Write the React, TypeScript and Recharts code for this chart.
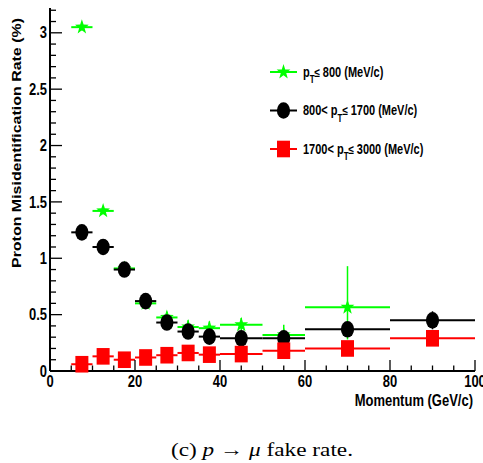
import React from 'react';
import { ScatterChart, Scatter, XAxis, YAxis, ErrorBar, Legend } from 'recharts';

// ---- data ----
const momentumBins = [7.5, 12.5, 17.5, 22.5, 27.5, 32.5, 37.5, 45, 55, 70, 90];
const binHalfWidths = [2.5, 2.5, 2.5, 2.5, 2.5, 2.5, 2.5, 5, 5, 10, 10];

const lowPtRate = [3.05, 1.42, 0.91, 0.6, 0.475, 0.39, 0.38, 0.41, 0.32, 0.565];
const lowPtErrDown = [0.03, 0.03, 0.03, 0.03, 0.04, 0.05, 0.05, 0.05, 0.07, 0.285];
const lowPtErrUp = [0.03, 0.03, 0.03, 0.03, 0.05, 0.06, 0.06, 0.06, 0.09, 0.365];

const midPtRate = [1.23, 1.1, 0.9, 0.62, 0.43, 0.35, 0.305, 0.29, 0.29, 0.37, 0.45];
const midPtErr = [0.02, 0.02, 0.02, 0.02, 0.02, 0.02, 0.03, 0.03, 0.04, 0.05, 0.08];

const highPtRate = [0.06, 0.13, 0.1, 0.12, 0.14, 0.16, 0.145, 0.15, 0.18, 0.2, 0.29];
const highPtErr = [0.01, 0.01, 0.01, 0.01, 0.01, 0.02, 0.02, 0.02, 0.03, 0.03, 0.04];

const xTicks = [0, 5, 10, 15, 20, 25, 30, 35, 40, 45, 50, 55, 60, 65, 70, 75, 80, 85, 90, 95, 100];
const xLabelTicks = [0, 20, 40, 60, 80, 100];
const yTicks = [0, 0.1, 0.2, 0.3, 0.4, 0.5, 0.6, 0.7, 0.8, 0.9, 1, 1.1, 1.2, 1.3, 1.4, 1.5, 1.6, 1.7, 1.8, 1.9, 2, 2.1, 2.2, 2.3, 2.4, 2.5, 2.6, 2.7, 2.8, 2.9, 3, 3.1, 3.2];
const yLabelTicks = [0, 0.5, 1, 1.5, 2, 2.5, 3];

const xTitle = 'Momentum (GeV/c)';
const yTitle = 'Proton Misidentification Rate (%)';

const buildSeries = (rates: number[], down: number[], up: number[]) =>
  rates.map((y, i) => ({
    x: momentumBins[i],
    y,
    xErr: binHalfWidths[i],
    yErr: [down[i], up[i]],
  }));

const lowPtData = buildSeries(lowPtRate, lowPtErrDown, lowPtErrUp);
const midPtData = buildSeries(midPtRate, midPtErr, midPtErr);
const highPtData = buildSeries(highPtRate, highPtErr, highPtErr);

const GREEN = '#00ff00';
const RED = '#ff0000';
const BLACK = '#000000';
const FONT = '"Liberation Sans", Arial, Helvetica, sans-serif';

// ---- markers ----
const starPath = (cx: number, cy: number, R: number, r: number, sy: number) => {
  const pts: string[] = [];
  for (let i = 0; i < 10; i++) {
    const rad = i % 2 === 0 ? R : r;
    const a = -Math.PI / 2 + (i * Math.PI) / 5;
    pts.push(`${cx + rad * Math.cos(a)},${cy + rad * Math.sin(a) * sy}`);
  }
  return `M${pts.join('L')}Z`;
};

const StarMarker = ({ cx, cy }: any) => <path d={starPath(cx, cy, 7.2, 2.9, 1.1)} fill={GREEN} />;
const CircleMarker = ({ cx, cy }: any) => <ellipse cx={cx} cy={cy} rx={6.6} ry={8.3} fill={BLACK} />;
const SquareMarker = ({ cx, cy }: any) => <rect x={cx - 6.5} y={cy - 8.3} width={13} height={16.6} fill={RED} />;

// ---- ticks ----
const tickText = (x: number, y: number, label: string, anchor: string) => (
  <g transform={`translate(${x},${y}) scale(1,1.2)`}>
    <text x={0} y={0} dy="0.36em" textAnchor={anchor as any} fontFamily={FONT} fontWeight="bold" fontSize={13} fill="#000">
      {label}
    </text>
  </g>
);

const BottomTick = (props: any) => {
  const { x, y, payload } = props;
  const major = xLabelTicks.includes(payload.value);
  return (
    <g>
      <line x1={x} x2={x} y1={y} y2={y - (major ? 11 : 5.5)} stroke="#000" strokeWidth={1.3} />
      {major && tickText(x, y + 10, String(payload.value), 'middle')}
    </g>
  );
};
const TopTick = (props: any) => {
  const { x, y, payload } = props;
  const major = xLabelTicks.includes(payload.value);
  return <line x1={x} x2={x} y1={y} y2={y + (major ? 11 : 5.5)} stroke="#000" strokeWidth={1.3} />;
};
const LeftTick = (props: any) => {
  const { x, y, payload } = props;
  const major = yLabelTicks.includes(payload.value);
  return (
    <g>
      <line x1={x} x2={x + (major ? 12 : 6)} y1={y} y2={y} stroke="#000" strokeWidth={1.3} />
      {major && tickText(x - 3, y, String(payload.value), 'end')}
    </g>
  );
};
const RightTick = (props: any) => {
  const { x, y, payload } = props;
  const major = yLabelTicks.includes(payload.value);
  return <line x1={x} x2={x - (major ? 12 : 6)} y1={y} y2={y} stroke="#000" strokeWidth={1.3} />;
};

// ---- legend ----
const legendItems = [
  { color: GREEN, Marker: StarMarker, pre: '', lim: '800' },
  { color: BLACK, Marker: CircleMarker, pre: '800< ', lim: '1700' },
  { color: RED, Marker: SquareMarker, pre: '1700< ', lim: '3000' },
];

const LegendContent = () => (
  <svg width={220} height={115} style={{ display: 'block', overflow: 'visible' }}>
    {legendItems.map((it, i) => {
      const cy = 15 + i * 38.5;
      return (
        <g key={i}>
          <line x1={6} x2={33} y1={cy} y2={cy} stroke={it.color} strokeWidth={2} />
          <it.Marker cx={19.5} cy={cy} />
          <g transform={`translate(39,${cy}) scale(1,1.25)`}>
            <text x={0} y={0} dy="0.36em" fontFamily={FONT} fontWeight="bold" fontSize={11} fill="#000">
              {it.pre}p
              <tspan fontSize={8} dy={5}>T</tspan>
              <tspan fontSize={10} dy={-5}>≤ </tspan>
              {`${it.lim} (MeV/c)`}
            </text>
          </g>
        </g>
      );
    })}
  </svg>
);

export default function App() {
  return (
    <div style={{ position: 'absolute', left: 0, top: 0, width: 483, height: 463, background: '#fff' }}>
      <ScatterChart width={483} height={415} margin={{ top: 8, right: 8, bottom: 8, left: 8 }}>
        <XAxis
          xAxisId={0}
          dataKey="x"
          type="number"
          domain={[0, 100]}
          ticks={xTicks}
          interval={0}
          height={36}
          tickSize={0}
          tickMargin={0}
          tickLine={false}
          axisLine={{ stroke: '#000', strokeWidth: 2 }}
          tick={<BottomTick />}
          label={{
            content: (p: any) => {
              const vb = p.viewBox || {};
              return (
                <g transform={`translate(${vb.x + vb.width - 2},${vb.y + 29}) scale(1,1.2)`}>
                  <text x={0} y={0} dy="0.36em" textAnchor="end" fontFamily={FONT} fontWeight="bold" fontSize={13} fill="#000">
                    {xTitle}
                  </text>
                </g>
              );
            },
          }}
        />
        <XAxis
          xAxisId="top"
          orientation="top"
          type="number"
          domain={[0, 100]}
          ticks={xTicks}
          interval={0}
          height={0}
          tickSize={0}
          tickMargin={0}
          tickLine={false}
          axisLine={{ stroke: '#000', strokeWidth: 2 }}
          tick={<TopTick />}
        />
        <YAxis
          yAxisId={0}
          dataKey="y"
          type="number"
          domain={[0, 3.22]}
          ticks={yTicks}
          interval={0}
          width={42}
          tickSize={0}
          tickMargin={0}
          tickLine={false}
          axisLine={{ stroke: '#000', strokeWidth: 2 }}
          tick={<LeftTick />}
          label={{
            content: () => (
              <text
                transform="translate(21,18) rotate(-90)"
                x={0}
                y={0}
                textAnchor="end"
                fontFamily={FONT}
                fontWeight="bold"
                fontSize={13}
                textLength={250}
                lengthAdjust="spacingAndGlyphs"
                fill="#000"
              >
                {yTitle}
              </text>
            ),
          }}
        />
        <YAxis
          yAxisId="right"
          orientation="right"
          type="number"
          domain={[0, 3.22]}
          ticks={yTicks}
          interval={0}
          width={0}
          tickSize={0}
          tickMargin={0}
          tickLine={false}
          axisLine={{ stroke: '#000', strokeWidth: 2 }}
          tick={<RightTick />}
        />
        <Legend
          layout="vertical"
          align="center"
          verticalAlign="middle"
          content={<LegendContent />}
          wrapperStyle={{ left: 264, top: 57, width: 220, height: 115 }}
        />
        <Scatter name="low" data={lowPtData} fill={GREEN} shape={StarMarker} isAnimationActive={false}>
          <ErrorBar dataKey="xErr" direction="x" width={0} stroke={GREEN} strokeWidth={2} />
          <ErrorBar dataKey="yErr" direction="y" width={0} stroke={GREEN} strokeWidth={1.5} />
        </Scatter>
        <Scatter name="mid" data={midPtData} fill={BLACK} shape={CircleMarker} isAnimationActive={false}>
          <ErrorBar dataKey="xErr" direction="x" width={0} stroke={BLACK} strokeWidth={2} />
          <ErrorBar dataKey="yErr" direction="y" width={0} stroke={BLACK} strokeWidth={1.5} />
        </Scatter>
        <Scatter name="high" data={highPtData} fill={RED} shape={SquareMarker} isAnimationActive={false}>
          <ErrorBar dataKey="xErr" direction="x" width={0} stroke={RED} strokeWidth={2} />
          <ErrorBar dataKey="yErr" direction="y" width={0} stroke={RED} strokeWidth={1.5} />
        </Scatter>
      </ScatterChart>
      <svg width={483} height={48} style={{ position: 'absolute', left: 0, top: 415 }}>
        <text x={262} y={41} textAnchor="middle" fontFamily='"Liberation Serif", "DejaVu Serif", serif' fontSize={19} fill="#000" textLength={182} lengthAdjust="spacingAndGlyphs">
          (c)  <tspan fontStyle="italic">p</tspan> → <tspan fontStyle="italic">μ</tspan> fake rate.
        </text>
      </svg>
    </div>
  );
}
